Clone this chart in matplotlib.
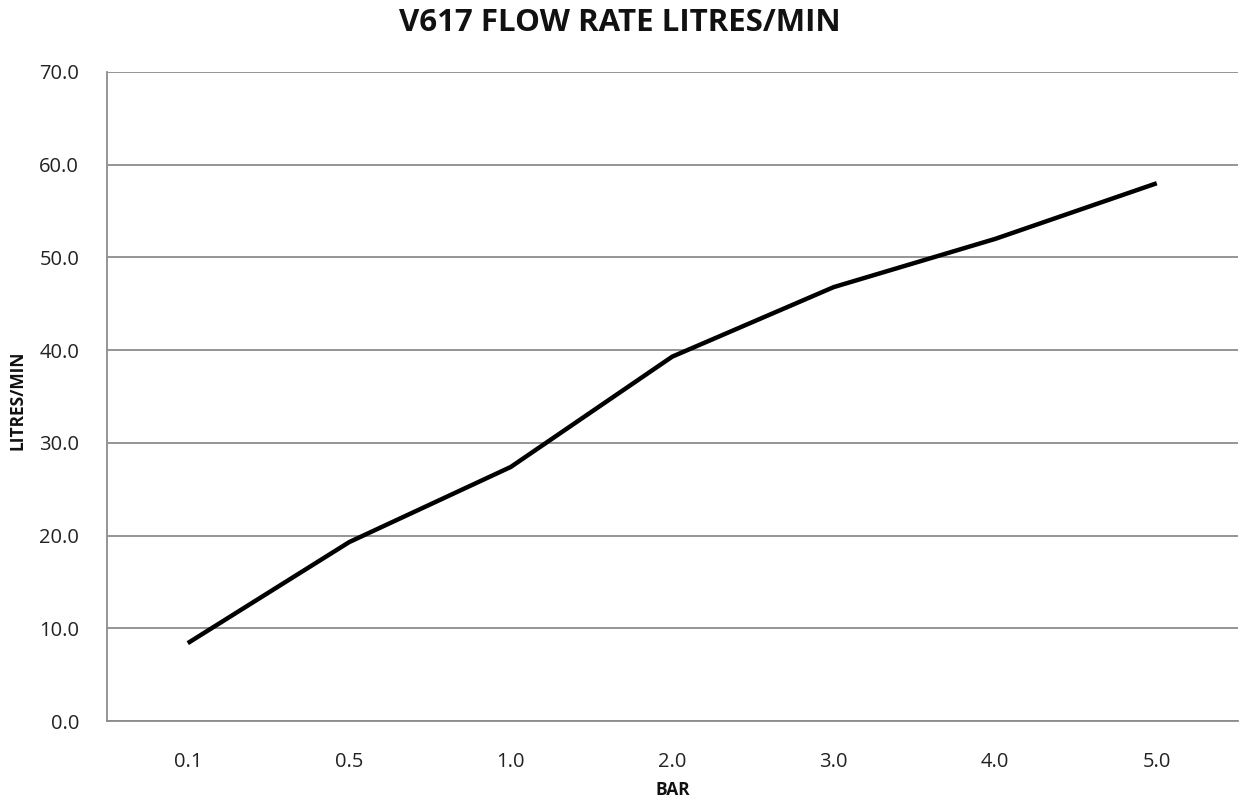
import matplotlib
matplotlib.use("Agg")
import matplotlib.pyplot as plt

## Chart data
pressure = ["0.1", "0.5", "1.0", "2.0", "3.0", "4.0", "5.0"]
flow = [8.4, 19.3, 27.4, 39.3, 46.8, 52.0, 58.0]
yticks = [0, 10, 20, 30, 40, 50, 60, 70]

plt.rcParams['font.family'] = ['Open Sans', 'DejaVu Sans']

fig = plt.figure(figsize=(12.4, 8.05), dpi=100)
ax = fig.add_axes([0.0863, 0.1043, 0.9117, 0.8063])

x = range(len(pressure))
ax.plot(x, flow, color="black", linewidth=3.2, solid_capstyle="butt")

ax.set_xlim(-0.5, len(pressure) - 0.5)
ax.set_ylim(0, 70)
ax.set_xticks(list(x))
ax.set_xticklabels(pressure)
ax.set_yticks(yticks)
ax.set_yticklabels(["{:.1f}".format(v) for v in yticks])
ax.tick_params(axis="y", length=0, labelsize=14.5, colors="#222222", pad=20)
ax.tick_params(axis="x", length=0, labelsize=14.5, colors="#222222", pad=22)

ax.yaxis.grid(True, color="#8c8c8c", linewidth=1.3)
ax.set_axisbelow(True)
for side in ["top", "right"]:
    ax.spines[side].set_visible(False)
for side in ["left", "bottom"]:
    ax.spines[side].set_color("#8c8c8c")
    ax.spines[side].set_linewidth(1.3)

fig.text(0.5, 0.972, "V617 FLOW RATE LITRES/MIN", ha="center", va="center",
         fontsize=22.5, fontweight="bold", color="#111111")
## axis titles placed on the figure so they sit where the reference has them
fig.text(0.5425, 0.019, "BAR", ha="center", va="center",
         fontsize=12.5, fontweight="bold", color="#111111")
fig.text(0.0145, 0.503, "LITRES/MIN", ha="center", va="center", rotation=90,
         fontsize=12.5, fontweight="bold", color="#111111")

fig.savefig("out.png", dpi=100)
